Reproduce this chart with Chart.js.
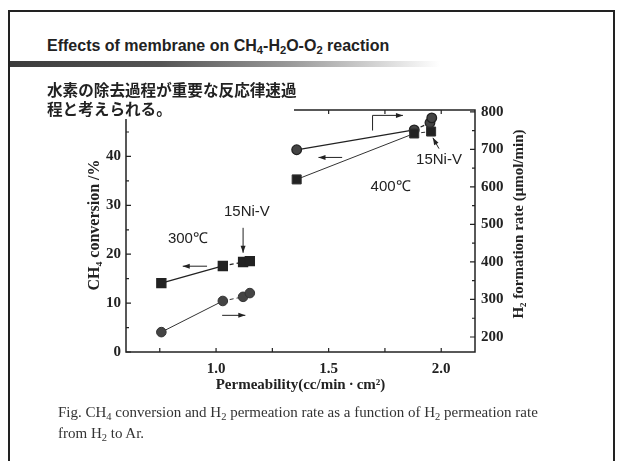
<!DOCTYPE html>
<html>
<head>
<meta charset="utf-8">
<script src="https://cdn.jsdelivr.net/npm/chart.js@4.4.0/dist/chart.umd.min.js"></script>
<style>
  body { margin: 0; width: 619px; height: 461px; overflow: hidden; background: #fff; position: relative; }
  #frame { position: absolute; left: 8px; top: 10px; width: 603px; height: 470px; border: 2px solid #222; }
  #title { position: absolute; left: 47px; top: 37px; font: bold 16px "Liberation Sans", Arial, sans-serif; color: #222; white-space: nowrap; }
  #title sub, #caption sub { font-size: 70%; vertical-align: -3px; line-height: 0; }
  #band { position: absolute; left: 10px; top: 61px; width: 430px; height: 6px;
          background: linear-gradient(to right, #3c3c3c 0%, #555 35%, #999 65%, rgba(255,255,255,0) 100%); }
  #chart { position: absolute; left: 0; top: 0; }
  #jp { position: absolute; left: 40px; top: 80px; width: 254px; height: 39px; background: #fff;
        padding-left: 7px; box-sizing: border-box;
        font: bold 15.6px "Noto Sans CJK JP", sans-serif; line-height: 19px; color: #222; white-space: nowrap; }
  #caption { position: absolute; left: 58px; top: 402px; font: 15px "Liberation Serif", "Times New Roman", serif;
             line-height: 21px; color: #333; white-space: nowrap; }
</style>
</head>
<body>
<div id="frame"></div>
<div id="title">Effects of membrane on CH<sub>4</sub>-H<sub>2</sub>O-O<sub>2</sub> reaction</div>
<div id="band"></div>
<canvas id="chart" width="619" height="461"></canvas>
<div id="jp">水素の除去過程が重要な反応律速過<br>程と考えられる。</div>
<div id="caption">Fig. CH<sub>4</sub> conversion and H<sub>2</sub> permeation rate as a function of H<sub>2</sub> permeation rate<br>from H<sub>2</sub> to Ar.</div>

<script>
// values
var xTicks = [1.0, 1.5, 2.0];
var convTicks = [0, 10, 20, 30, 40];
var rateTicks = [200, 300, 400, 500, 600, 700, 800];

// 300 C
var perm300 = [0.757, 1.03, 1.12, 1.15];
var conv300 = [14.1, 17.6, 18.4, 18.6];
var rate300 = [213, 296, 307, 317];

// 400 C
var perm400Conv = [1.358, 1.88, 1.955];
var conv400 = [35.3, 44.7, 45.1];
var perm400Rate = [1.358, 1.88, 1.95, 1.958];
var rate400 = [699, 752, 771, 784];

// arrows and labels, in data units (x, left axis)
var arrows = [
  [0.96, 17.55, 0.852, 17.55],
  [1.027, 7.5, 1.13, 7.5],
  [1.12, 25.4, 1.12, 20.3],
  [1.56, 39.8, 1.455, 39.8],
  [1.99, 41.6, 1.963, 43.8]
];
var labels = [
  ['15Ni-V', 1.137, 28.7],
  ['300\u2103', 0.875, 23.2],
  ['400\u2103', 1.775, 33.8],
  ['15Ni-V', 1.99, 39.3]
];

function pts(xs, ys) {
  var out = [];
  for (var i = 0; i < xs.length; i++) out.push({x: xs[i], y: ys[i]});
  return out;
}

var dashAfterFirst = {
  borderDash: function(c) { return c.p0DataIndex >= 1 ? [4, 3] : undefined; }
};

function head(ctx, x1, y1, x2, y2) {
  var a = Math.atan2(y2 - y1, x2 - x1);
  ctx.beginPath();
  ctx.moveTo(x2, y2);
  ctx.lineTo(x2 - 7 * Math.cos(a) + 2.5 * Math.sin(a), y2 - 7 * Math.sin(a) - 2.5 * Math.cos(a));
  ctx.lineTo(x2 - 7 * Math.cos(a) - 2.5 * Math.sin(a), y2 - 7 * Math.sin(a) + 2.5 * Math.cos(a));
  ctx.closePath();
  ctx.fill();
}

function vtitle(ctx, text, x, y) {
  ctx.save();
  ctx.translate(x, y);
  ctx.rotate(-Math.PI / 2);
  ctx.fillText(text, 0, 0);
  ctx.restore();
}

var frameAndNotes = {
  id: 'frameAndNotes',
  afterDraw: function(chart) {
    var ctx = chart.ctx, a = chart.chartArea;
    var sx = chart.scales.x, sl = chart.scales.yL, sr = chart.scales.yR;
    ctx.save();
    ctx.strokeStyle = '#222';
    ctx.fillStyle = '#222';
    ctx.lineWidth = 1.5;
    ctx.strokeRect(a.left, a.top, a.right - a.left, a.bottom - a.top);

    // inward ticks
    ctx.lineWidth = 1.2;
    ctx.beginPath();
    for (var v = 0.75; v <= 2.1; v += 0.25) {
      var px = sx.getPixelForValue(v);
      ctx.moveTo(px, a.bottom); ctx.lineTo(px, a.bottom - 4);
      ctx.moveTo(px, a.top); ctx.lineTo(px, a.top + 4);
    }
    for (var c = 0; c <= 45; c += 5) {
      var py = sl.getPixelForValue(c);
      var len = c % 10 === 0 ? 5 : 3;
      ctx.moveTo(a.left, py); ctx.lineTo(a.left + len, py);
    }
    for (var r = 200; r <= 800; r += 50) {
      var py2 = sr.getPixelForValue(r);
      var len2 = r % 100 === 0 ? 5 : 3;
      ctx.moveTo(a.right, py2); ctx.lineTo(a.right - len2, py2);
    }
    ctx.stroke();

    // arrows
    ctx.lineWidth = 1;
    arrows.forEach(function(ar) {
      var x1 = sx.getPixelForValue(ar[0]), y1 = sl.getPixelForValue(ar[1]);
      var x2 = sx.getPixelForValue(ar[2]), y2 = sl.getPixelForValue(ar[3]);
      ctx.beginPath(); ctx.moveTo(x1, y1); ctx.lineTo(x2, y2); ctx.stroke();
      head(ctx, x1, y1, x2, y2);
    });
    // bent arrow at 400 C
    var bx = sx.getPixelForValue(1.695), by1 = sl.getPixelForValue(45.3), by2 = sl.getPixelForValue(48.4);
    var bx2 = sx.getPixelForValue(1.83);
    ctx.beginPath(); ctx.moveTo(bx, by1); ctx.lineTo(bx, by2); ctx.lineTo(bx2, by2); ctx.stroke();
    head(ctx, bx, by2, bx2, by2);

    ctx.font = '15px "Liberation Sans", Arial, sans-serif';
    ctx.textAlign = 'center';
    ctx.textBaseline = 'middle';
    labels.forEach(function(l) {
      ctx.fillText(l[0], sx.getPixelForValue(l[1]), sl.getPixelForValue(l[2]));
    });

    // axis titles, both read bottom to top
    ctx.font = 'bold 16px "Liberation Serif", serif';
    vtitle(ctx, 'CH\u2084 conversion /%', 95, 225);
    ctx.font = 'bold 15px "Liberation Serif", serif';
    vtitle(ctx, 'H\u2082 formation rate (\u03bcmol/min)', 519, 224);
    ctx.restore();
  }
};

Chart.defaults.font.family = '"Liberation Serif", "Times New Roman", serif';
Chart.defaults.color = '#222';

new Chart(document.getElementById('chart'), {
  type: 'scatter',
  data: {
    datasets: [
      { data: pts(perm300, conv300), yAxisID: 'yL', showLine: true, pointStyle: 'rect', pointRadius: 6.4,
        backgroundColor: '#222', borderColor: '#222', borderWidth: 1.3, segment: dashAfterFirst },
      { data: pts(perm300, rate300), yAxisID: 'yR', showLine: true, pointStyle: 'circle', pointRadius: 4.8,
        backgroundColor: '#444', borderColor: '#333', borderWidth: 1, segment: dashAfterFirst },
      { data: pts(perm400Conv, conv400), yAxisID: 'yL', showLine: true, pointStyle: 'rect', pointRadius: 6.4,
        backgroundColor: '#222', borderColor: '#333', borderWidth: 1, segment: dashAfterFirst },
      { data: pts(perm400Rate, rate400), yAxisID: 'yR', showLine: true, pointStyle: 'circle', pointRadius: 4.8,
        backgroundColor: '#444', borderColor: '#222', borderWidth: 1.3, segment: dashAfterFirst }
    ]
  },
  options: {
    responsive: false,
    animation: false,
    layout: { padding: { left: 80, right: 64, top: 110, bottom: 64 } },
    plugins: { legend: { display: false }, tooltip: { enabled: false } },
    scales: {
      x: {
        type: 'linear', position: 'bottom', min: 0.6, max: 2.15,
        grid: { display: false, drawTicks: false }, border: { display: false },
        afterBuildTicks: function(s) { s.ticks = xTicks.map(function(v) { return {value: v}; }); },
        afterFit: function(s) { s.height = 45; },
        ticks: { padding: 8, font: { size: 15, weight: 'bold' }, callback: function(v) { return v.toFixed(1); } },
        title: { display: true, text: 'Permeability(cc/min\u2009\u00b7\u2009cm\u00b2)', font: { size: 15, weight: 'bold' },
                 padding: { top: 0, bottom: 3 } }
      },
      yL: {
        type: 'linear', position: 'left', min: 0, max: 49.5,
        grid: { display: false, drawTicks: false }, border: { display: false },
        afterBuildTicks: function(s) { s.ticks = convTicks.map(function(v) { return {value: v}; }); },
        afterFit: function(s) { s.width = 46; },
        ticks: { padding: 5, font: { size: 15, weight: 'bold' } }
      },
      yR: {
        type: 'linear', position: 'right', min: 160, max: 805,
        grid: { display: false, drawTicks: false }, border: { display: false },
        afterBuildTicks: function(s) { s.ticks = rateTicks.map(function(v) { return {value: v}; }); },
        afterFit: function(s) { s.width = 80; },
        ticks: { padding: 6, font: { size: 15, weight: 'bold' } }
      }
    }
  },
  plugins: [frameAndNotes]
});
</script>
</body>
</html>
